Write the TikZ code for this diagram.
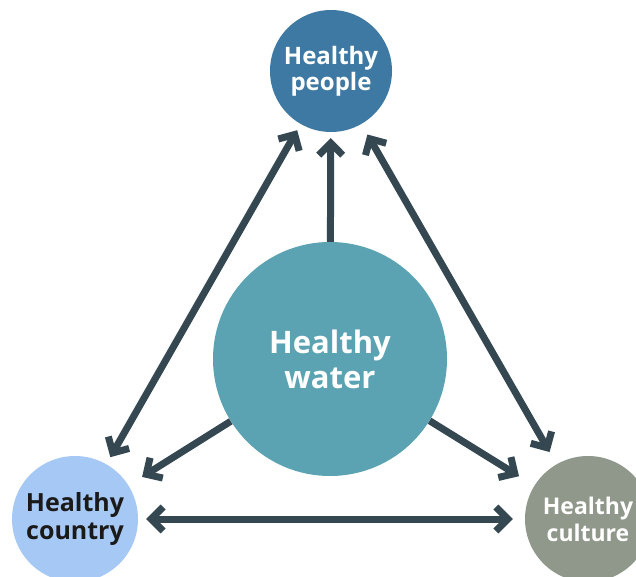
\documentclass[tikz,border=0pt]{standalone}
\usepackage{fontspec}
\setmainfont{Open Sans}
\usetikzlibrary{arrows.meta}
\definecolor{cpeople}{RGB}{62,121,163}
\definecolor{cwater}{RGB}{91,163,178}
\definecolor{ccountry}{RGB}{166,200,245}
\definecolor{cculture}{RGB}{143,152,138}
\definecolor{carrow}{RGB}{53,72,82}
\definecolor{ctext}{RGB}{26,26,26}
\tikzset{
  circ/.style={circle, inner sep=0pt, minimum size=#1, align=center},
  tipb/.tip={Straight Barb[length=12pt,width=24pt]},
  conn/.style={draw=carrow, line width=7pt},
}
\begin{document}
\begin{tikzpicture}[x=1pt,y=-1pt]
\useasboundingbox (0,0) rectangle (636,577);
\clip (0,0) rectangle (636,577);
\fill[white] (0,0) rectangle (636,577);
\node[circ=122pt, fill=cpeople, text=white, font=\bfseries\fontsize{24}{26}\selectfont] (people) at (331,71) {Healthy\\people};
\node[circ=234pt, fill=cwater, text=white, font=\bfseries\fontsize{31}{35}\selectfont] (water) at (330,359) {Healthy\\water};
\node[circ=126pt, fill=ccountry, text=ctext, font=\bfseries\fontsize{25}{28}\selectfont] (country) at (75,519) {Healthy\\country};
\node[circ=126pt, fill=cculture, text=white, font=\bfseries\fontsize{23}{27}\selectfont] (culture) at (588,519) {Healthy\\culture};
\draw[conn, tipb-tipb, shorten <=8pt, shorten >=7pt] (country) -- (people);
\draw[conn, tipb-tipb, shorten <=14pt, shorten >=12pt] (culture) -- (people);
\draw[conn, -tipb, shorten >=6pt] (water) -- (people);
\draw[conn, -tipb, shorten >=16pt] (water) -- (country);
\draw[conn, -tipb, shorten >=18pt] (water) -- (culture);
\draw[conn, tipb-tipb, shorten <=8pt, shorten >=12pt] (country) -- (culture);
\end{tikzpicture}
\end{document}
